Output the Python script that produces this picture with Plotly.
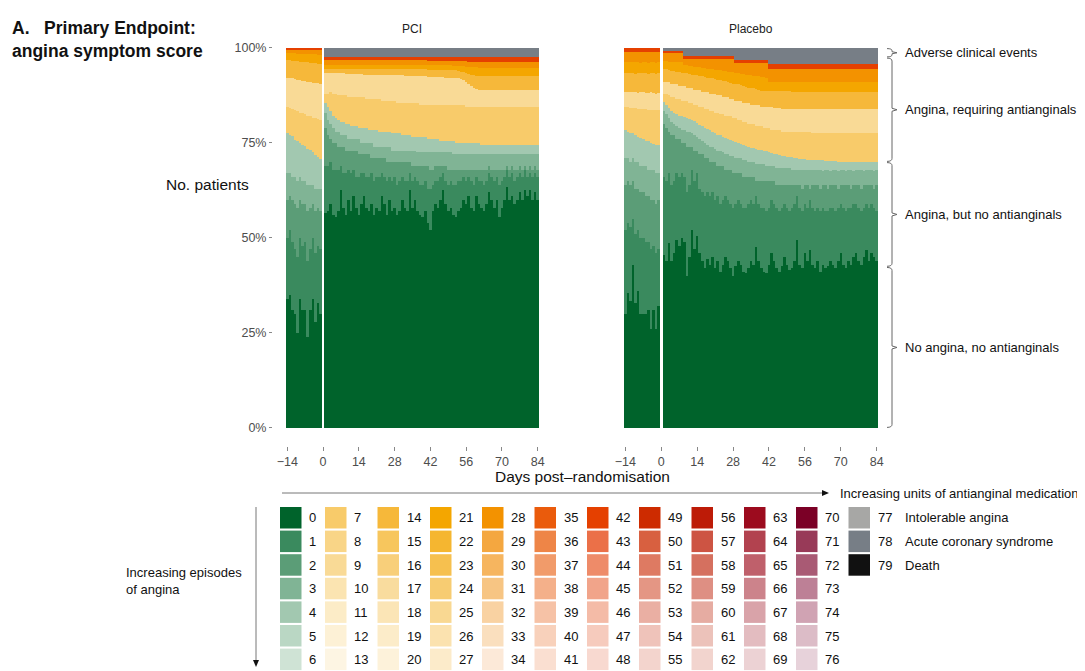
import plotly.graph_objects as go

W, H = 1085, 671
FONT = "Liberation Sans, Arial, Helvetica, sans-serif"
OFF = 8  # page body margin in the browser

# ---------------- categories / labels ----------------
days = list(range(-14, 0)) + list(range(1, 85))
tick_days = [-14, 0, 14, 28, 42, 56, 70, 84]
pct_ticks = [0, 25, 50, 75, 100]
pct_labels = ["0%", "25%", "50%", "75%", "100%"]
panel_titles = ["PCI", "Placebo"]
bracket_edges = [100, 97.5, 70, 42.4, 0]
bracket_labels = ["Adverse clinical events", "Angina, requiring antianginals",
                  "Angina, but no antianginals", "No angina, no antianginals"]
extra_labels = {77: "Intolerable angina", 78: "Acute coronary syndrome", 79: "Death"}

# colour of each score 0..79 (columns of 7)
palette = [
    '#00632b', '#3a8a5e', '#5b9d77', '#80b495', '#a2c8b0', '#bad7c4', '#cfe3d5',
    '#f8cb6a', '#f9d587', '#f9da96', '#fbe4b1', '#fcecc7', '#fdf1d6', '#fdf5e3',
    '#f6b83a', '#f7c65d', '#f8cf7a', '#f9dc9e', '#fbe5b6', '#fcecc9', '#fdf2da',
    '#f4a600', '#f5b630', '#f6c04f', '#f7cc72', '#f9d892', '#fbe2af', '#fcebca',
    '#f39200', '#f4a740', '#f6b55f', '#f7c583', '#f9d2a2', '#fadfbe', '#fce9d8',
    '#ea5b0c', '#ee8547', '#f19b6a', '#f4b08a', '#f6c2a6', '#f8d1bb', '#fadfd1',
    '#e54000', '#eb7048', '#ee8b69', '#f1a48a', '#f4bba7', '#f6cbbd', '#f8d9d0',
    '#cd2b00', '#d86040', '#de7a62', '#e49684', '#eaafa3', '#efc3ba', '#f3d4cd',
    '#bd1b07', '#cd5443', '#d5705f', '#de8f83', '#e6aca2', '#ecc2ba', '#f2d4ce',
    '#9c0b1e', '#b2424f', '#bf606b', '#cc838b', '#d9a3a9', '#e3bcc0', '#ecd2d4',
    '#7b0026', '#983a58', '#a95a74', '#bd8096', '#d0a3b3', '#dcbcc7', '#e7d2da',
    '#a7a7a5', '#777e86', '#111111',
]

# score category drawn by each layer (bottom -> top); last layer fills to 100 %
layer_cats = [0, 1, 2, 3, 4, 7, 9, 14, 21, 28, 42, 78]

# ---------------- data: cumulative % of patients at top of each layer ----------------
# 14 pre-randomisation days (-14..-1) followed by 84 post days (1..84)
pci_c0 = [34, 35, 31, 30, 25, 34, 31, 31, 24, 31, 34, 28, 33, 30,
          56.5, 57, 59, 56, 55.5, 57, 62.5, 58, 56, 60,
          57, 61, 58, 56, 59, 61, 58, 57, 59, 56,
          58, 57, 61, 59, 56, 60, 57, 58, 56, 57,
          60, 58, 57, 62.5, 58, 60, 57, 56, 55.5, 57,
          54, 52, 57, 59, 58, 60, 62.5, 59, 57, 58,
          56, 55.5, 57, 58, 60, 59, 61, 58, 57, 61,
          59, 58, 57, 59, 62, 60, 58, 60, 55.5, 58,
          60, 63.5, 60, 61, 59, 60, 62, 60, 62.5, 61,
          62.5, 60, 62, 60]
pci_c1 = [50, 52, 49, 47, 45, 50, 48, 49, 44, 47, 50, 46, 48, 47,
          69, 69, 70, 68, 68, 68, 69, 67, 67, 68,
          67, 68, 66, 66, 67, 67, 66, 66, 67, 65,
          66, 66, 67, 66, 65, 66, 65, 66, 64, 65,
          66, 65, 65, 67, 65, 66, 65, 64, 64, 65,
          63, 63, 64, 65, 65, 66, 67, 65, 64, 65,
          64, 64, 65, 65, 66, 65, 66, 65, 64, 66,
          65, 65, 64, 65, 67, 66, 65, 66, 64, 65,
          66, 68, 66, 67, 65, 66, 67, 66, 68, 66,
          67, 66, 67, 66]
pci_c2 = [60, 61, 60, 59, 58, 60, 59, 59, 57, 58, 59, 57, 58, 57,
          79, 77, 76, 75, 75, 74, 74, 74, 73, 73,
          73, 73, 73, 72, 72, 72, 72, 72, 71, 71,
          71, 71, 71, 71, 70, 70, 70, 70, 70, 70,
          70, 70, 70, 70, 69, 69, 69, 69, 69, 69,
          69, 68, 68, 69, 69, 69, 69, 69, 68, 68,
          68, 68, 68, 68, 68, 68, 68, 68, 68, 68,
          68, 68, 68, 68, 69, 68, 68, 68, 68, 68,
          68, 69, 68, 69, 68, 68, 69, 68, 69, 68,
          69, 68, 69, 68]
pci_c3 = [67, 67, 66, 66, 65, 66, 65, 65, 64, 64, 64, 63, 63, 63,
          83, 81, 80, 79, 78, 78, 77, 77, 77, 76,
          76, 76, 76, 76, 75, 75, 75, 75, 75, 74,
          74, 74, 74, 74, 74, 74, 73, 73, 73, 73,
          73, 73, 73, 73, 73, 73, 72.5, 72.5, 72.5, 72.5,
          72.5, 72.5, 72.5, 72.5, 72.5, 72.5, 72.5, 72.5, 72.5, 72.5,
          72, 72, 72, 72, 72, 72, 72, 72, 72, 72,
          72, 72, 72, 72, 72, 72, 72, 72, 72, 72,
          72, 72, 72, 72, 72, 72, 72, 72, 72, 72,
          72, 72, 72, 72]
pci_gtop = [77.6, 77.2, 76.8, 75.9, 75.4, 75.1, 74.6, 74.2, 73.3, 73.1, 72.6, 71.9, 71.4, 70.9,
            85.5, 84.5, 83.5, 82, 81.5, 81, 80.5, 80.5, 80, 80,
            79.5, 79.5, 79.5, 79, 79, 79, 79, 78.5, 78.5, 78.5,
            78.5, 78, 78, 78, 78, 78, 77.5, 77.5, 77.5, 77.5,
            77, 77, 77, 77, 76.5, 76.5, 76.5, 76.5, 76.5, 76.5,
            76, 76, 76, 76, 76, 75.5, 75.5, 75.5, 75.5, 75.5,
            75.5, 75, 75, 75, 75, 75, 75, 75, 75, 75,
            75, 74.5, 74.5, 74.5, 74.5, 74.5, 74.5, 74.5, 74.5, 74.5,
            74.5, 74.5, 74.5, 74.5, 74.5, 74.5, 74.5, 74.5, 74.5, 74.5,
            74.5, 74.5, 74.5, 74.5]
pci_y7 = [84.5, 84.3, 84, 83.6, 83.3, 83, 82.8, 82.5, 82.2, 82, 81.7, 81.5, 81.2, 81,
          88, 88, 88.5, 88, 88, 87.5, 87.5, 87.5, 87.5, 87,
          87, 87, 87, 87, 87, 87, 86.5, 86.5, 86.5, 86.5,
          86.5, 86.5, 86, 86, 86, 86, 86, 86, 85.5, 85.5,
          85.5, 85.5, 85.5, 85.5, 85.5, 85.5, 85.5, 85, 85, 85,
          85, 85, 85, 85, 85, 85, 85, 85, 85, 85,
          85, 85, 85, 85, 85, 84.5, 84.5, 84.5, 84.5, 84.5,
          84.5, 84.5, 84.5, 84.5, 84.5, 84.5, 84.5, 84.5, 84.5, 84.5,
          84.5, 84.5, 84.5, 84.5, 84.5, 84.5, 84.5, 84.5, 84.5, 84.5,
          84.5, 84.5, 84.5, 84.5]
pci_y10 = [92, 92, 92, 91.8, 91.6, 91.5, 91.3, 91.2, 91, 91, 90.8, 90.7, 90.7, 90.6,
           93.5, 93.5, 93.5, 93.5, 93.4, 93.4, 93.3, 93.3, 93.2, 93.2,
           93.2, 93.2, 93.1, 93.1, 93.1, 93, 93, 93, 93, 93,
           93, 93, 93, 93, 93, 93, 92.8, 92.8, 92.8, 92.8,
           92.8, 92.6, 92.6, 92.6, 92.6, 92.5, 92.5, 92.5, 92.5, 92.5,
           92.4, 92.4, 92.4, 92.4, 92.3, 92.3, 92.3, 92.2, 92.2, 92.2,
           92, 92, 92, 91.8, 91.5, 91, 90.5, 90, 89.5, 89.2,
           89, 89, 89, 89, 89, 89, 89, 89, 89, 89,
           89, 89, 89, 89, 89, 89, 89, 89, 89, 89,
           89, 89, 89, 89]
pci_y14 = [96.8, 96.8, 96.5, 96.5, 96.5, 96.3, 96.3, 96.2, 96.2, 96, 96, 96, 95.8, 95.8,
           94.6, 94.6, 94.6, 94.5, 94.5, 94.5, 94.5, 94.5, 94.5, 94.5,
           94.5, 94.5, 94.5, 94.5, 94.5, 94.5, 94.5, 94.5, 94.5, 94.5,
           94.4, 94.4, 94.4, 94.4, 94.4, 94.4, 94.4, 94.4, 94.4, 94.4,
           94.4, 94.4, 94.4, 94.4, 94.4, 94.4, 94.4, 94.4, 94.4, 94.4,
           94.3, 94.3, 94.3, 94.3, 94.3, 94.3, 94.3, 94.3, 94.3, 94.3,
           94.2, 94.2, 94, 93.8, 93.6, 93.4, 93.2, 93, 92.8, 92.6,
           92.5, 92.5, 92.5, 92.5, 92.5, 92.5, 92.5, 92.5, 92.5, 92.5,
           92.5, 92.5, 92.5, 92.5, 92.5, 92.5, 92.5, 92.5, 92.5, 92.5,
           92.5, 92.5, 92.5, 92.5]
pci_o21 = [98.8, 98.8, 98.6, 98.6, 98.5, 98.5, 98.5, 98.4, 98.4, 98.3, 98.3, 98.3, 98.2, 98.2,
           95.5, 95.5, 95.5, 95.5, 95.5, 95.5, 95.5, 95.5, 95.5, 95.5,
           95.5, 95.5, 95.5, 95.5, 95.5, 95.5, 95.5, 95.5, 95.5, 95.5,
           95.5, 95.5, 95.5, 95.5, 95.5, 95.5, 95.5, 95.5, 95.5, 95.5,
           95.5, 95.5, 95.5, 95.5, 95.5, 95.5, 95.5, 95.5, 95.5, 95.5,
           95.4, 95.4, 95.4, 95.4, 95.4, 95.4, 95.4, 95.4, 95.4, 95.4,
           95.3, 95.3, 95.3, 95.2, 95.2, 95.1, 95.1, 95, 95, 94.9,
           94.8, 94.8, 94.8, 94.8, 94.8, 94.8, 94.8, 94.8, 94.8, 94.8,
           94.8, 94.8, 94.8, 94.8, 94.8, 94.8, 94.8, 94.8, 94.8, 94.8,
           94.8, 94.8, 94.8, 94.8]
pci_o28 = [99.5, 99.5, 99.5, 99.5, 99.5, 99.5, 99.5, 99.5, 99.5, 99.5, 99.5, 99.5, 99.5, 99.5,
           96.8, 96.8, 96.8, 96.8, 96.8, 96.8, 96.8, 96.8, 96.8, 96.8,
           96.8, 96.8, 96.8, 96.8, 96.8, 96.8, 96.8, 96.8, 96.8, 96.8,
           96.8, 96.8, 96.8, 96.8, 96.8, 96.8, 96.8, 96.8, 96.8, 96.8,
           96.8, 96.8, 96.8, 96.8, 96.8, 96.8, 96.8, 96.8, 96.8, 96.8,
           96.7, 96.7, 96.7, 96.7, 96.7, 96.7, 96.7, 96.7, 96.7, 96.7,
           96.6, 96.6, 96.6, 96.5, 96.5, 96.5, 96.4, 96.4, 96.4, 96.3,
           96.3, 96.3, 96.3, 96.3, 96.3, 96.3, 96.3, 96.3, 96.3, 96.3,
           96.3, 96.3, 96.3, 96.3, 96.3, 96.3, 96.3, 96.3, 96.3, 96.3,
           96.3, 96.3, 96.3, 96.3]
pci_r42 = [100, 100, 100, 100, 100, 100, 100, 100, 100, 100, 100, 100, 100, 100,
           97.6, 97.6, 97.6, 97.6, 97.6, 97.6, 97.6, 97.6, 97.6, 97.6,
           97.6, 97.6, 97.6, 97.6, 97.6, 97.6, 97.6, 97.6, 97.6, 97.6,
           97.6, 97.6, 97.6, 97.6, 97.6, 97.6, 97.6, 97.6, 97.6, 97.6,
           97.6, 97.6, 97.6, 97.6, 97.6, 97.6, 97.6, 97.6, 97.6, 97.6,
           97.6, 97.6, 97.6, 97.6, 97.6, 97.6, 97.6, 97.6, 97.6, 97.6,
           97.5, 97.5, 97.5, 97.5, 97.5, 97.5, 97.5, 97.5, 97.5, 97.5,
           97.5, 97.5, 97.5, 97.5, 97.5, 97.5, 97.5, 97.5, 97.5, 97.5,
           97.5, 97.5, 97.5, 97.5, 97.5, 97.5, 97.5, 97.5, 97.5, 97.5,
           97.5, 97.5, 97.5, 97.5]

pl_c0 = [30, 35.5, 33.5, 43, 33, 36, 30, 30, 30, 31, 26, 31, 26, 32,
         45.5, 44, 48.6, 44, 46, 49.5, 48, 50, 49, 40,
         45, 52, 47, 50.4, 46, 44, 42, 44.5, 43, 45,
         42, 44, 41, 43, 45, 44, 42, 40, 42.5, 44,
         43, 41, 40.7, 42, 44, 43, 47.7, 44, 42, 41,
         40.7, 43, 46, 44, 42, 41, 42.5, 45, 43, 41.6,
         42, 44, 49.5, 43, 42, 46, 44, 46.8, 43, 42,
         44, 41, 43, 42, 42.5, 44, 43, 42, 44, 46,
         43, 42, 44, 43, 45, 46, 44, 43, 45, 46.8,
         44, 46, 45, 44]
pl_c1 = [52, 54, 53, 55, 51, 52, 50, 50, 49, 49, 47, 48, 46, 47,
         66, 65, 67, 64, 65, 67, 66, 67, 66, 62,
         64, 68, 65, 67, 63, 62, 61, 62, 61, 62,
         60, 61, 59, 60, 61, 60, 59, 58, 59, 60,
         59, 58, 58, 59, 60, 59, 61, 59, 58, 58,
         57, 58, 60, 59, 58, 57, 58, 59, 58, 57,
         58, 59, 61, 58, 57, 59, 58, 60, 58, 57,
         58, 57, 58, 57, 57, 58, 58, 57, 58, 59,
         58, 57, 58, 58, 59, 59, 58, 57, 58, 59,
         58, 59, 58, 57]
pl_c2 = [64, 65, 64, 65, 63, 63, 62, 62, 61, 61, 60, 60, 59, 60,
         80, 79, 78, 77, 77, 76, 76, 75, 75, 74,
         74, 74, 73, 73, 72, 72, 71, 71, 70, 70,
         70, 69, 69, 69, 68, 68, 68, 67, 67, 67,
         67, 66, 66, 66, 66, 66, 65, 65, 65, 65,
         65, 65, 65, 65, 64, 64, 64, 64, 64, 64,
         64, 64, 64, 64, 63, 64, 64, 63, 64, 64,
         64, 63, 64, 64, 63, 64, 64, 64, 63, 64,
         64, 64, 64, 63, 64, 64, 64, 63, 64, 64,
         64, 64, 63, 64]
pl_c3 = [71, 71, 70, 71, 70, 70, 69, 69, 69, 68, 68, 68, 67, 67,
         83.5, 82.5, 81.5, 80.5, 80, 79.5, 79, 78.5, 78.5, 78,
         78, 77.5, 77, 76.5, 76, 75.5, 75, 74.5, 74, 74,
         73.5, 73, 73, 72.5, 72, 72, 71.5, 71.5, 71, 71,
         71, 70.5, 70.5, 70, 70, 70, 69.5, 69.5, 69.5, 69.5,
         69, 69, 69, 69, 68.5, 68.5, 68.5, 68.5, 68.5, 68.5,
         68, 68, 68, 68, 68, 68, 68, 68, 68, 68,
         68, 68, 67.5, 68, 68, 67.5, 68, 68, 67.5, 68,
         68, 67.5, 68, 68, 67.5, 68, 68, 68, 67.5, 68,
         68, 68, 67.5, 68]
pl_gtop = [78.4, 78, 77.6, 77.5, 77, 76.6, 76.3, 76, 75.6, 75.4, 75, 74.8, 74.5, 74.5,
           85.8, 85, 84.2, 83.5, 83, 82.6, 82.2, 82, 81.8, 81.5,
           81.2, 81, 80.8, 80.2, 79.8, 79.4, 79, 78.6, 78.3, 78,
           77.6, 77.2, 77, 76.7, 76.3, 76, 75.8, 75.5, 75.2, 75,
           74.8, 74.5, 74.3, 74, 73.8, 73.6, 73.4, 73.2, 73.1, 73,
           72.8, 72.6, 72.4, 72.2, 72, 71.9, 71.7, 71.5, 71.4, 71.3,
           71.2, 71.1, 71, 70.9, 70.8, 70.7, 70.6, 70.6, 70.5, 70.5,
           70.5, 70.4, 70.4, 70.3, 70.3, 70.2, 70.2, 70.2, 70.1, 70.1,
           70.1, 70, 70, 70, 70, 70, 70, 70, 70, 70,
           70, 70, 70, 70]
pl_y7 = [84.5, 84.4, 84.3, 84.2, 84.1, 84, 84, 83.9, 83.9, 83.8, 83.8, 83.7, 83.7, 83.7,
         88, 88, 87.5, 87, 87, 86.5, 86.5, 86, 86, 86,
         85.5, 85.5, 85, 85, 84.5, 84.5, 84, 84, 83.5, 83.5,
         83, 83, 82.5, 82.5, 82, 82, 82, 81.5, 81.5, 81,
         81, 80.5, 80.5, 80, 80, 80, 79.5, 79.5, 79.5, 79,
         79, 79, 78.5, 78.5, 78.5, 78.5, 78, 78, 78, 78,
         78, 78, 78, 77.8, 77.8, 77.8, 77.8, 77.8, 77.6, 77.6,
         77.6, 77.6, 77.6, 77.6, 77.6, 77.6, 77.6, 77.6, 77.6, 77.6,
         77.6, 77.6, 77.6, 77.6, 77.6, 77.6, 77.6, 77.6, 77.6, 77.6,
         77.6, 77.6, 77.6, 77.6]
pl_y10 = [88.4, 88.4, 88.5, 88.3, 88.4, 88.2, 88.3, 88.4, 88.2, 88.1, 88.3, 88.2, 88, 88.1,
          91, 91, 91, 90.5, 90.5, 90.5, 90, 90, 90, 89.5,
          89.5, 89.5, 89, 89, 89, 88.5, 88.5, 88.5, 88, 88,
          88, 87.5, 87.5, 87, 87, 87, 86.5, 86.5, 86, 86,
          86, 85.5, 85.5, 85.5, 85, 85, 85, 85, 84.5, 84.5,
          84.5, 84.5, 84.5, 84.2, 84.2, 84.2, 84, 84, 84, 84,
          84, 84, 84, 84, 84, 84, 84, 84, 84, 84,
          84, 84, 84, 84, 84, 84, 84, 84, 84, 84,
          84, 84, 84, 84, 84, 84, 84, 84, 84, 84,
          84, 84, 84, 84]
pl_y14 = [93.4, 93.5, 93.3, 93.4, 93.2, 93.4, 93.3, 93.5, 93.3, 93.2, 93.4, 93.3, 93.2, 93.3,
          94.4, 94.4, 94.2, 94, 94, 93.8, 93.6, 93.5, 93.5, 93.4,
          93.2, 93, 93, 92.8, 92.6, 92.5, 92.4, 92.2, 92, 92,
          91.8, 91.6, 91.5, 91.4, 91.2, 91, 90.8, 90.6, 90.5, 90.4,
          90.2, 90, 89.8, 89.6, 89.5, 89.4, 89.2, 89, 88.8, 88.8,
          88.6, 88.6, 88.6, 88.6, 88.6, 88.6, 88.6, 88.6, 88.6, 88.6,
          88.5, 88.5, 88.5, 88.5, 88.5, 88.5, 88.5, 88.5, 88.5, 88.5,
          88.5, 88.5, 88.5, 88.5, 88.5, 88.5, 88.5, 88.5, 88.5, 88.5,
          88.5, 88.5, 88.5, 88.5, 88.5, 88.5, 88.5, 88.5, 88.5, 88.5,
          88.5, 88.5, 88.5, 88.5]
pl_o21 = [96.3, 96.4, 96.2, 96.3, 96.2, 96.3, 96.1, 96.3, 96.2, 96.1, 96.3, 96.2, 96.1, 96.2,
          96.5, 96.5, 96.4, 96.4, 96.3, 96.3, 96.2, 96.2, 95.5, 95.4,
          95.3, 95.2, 95.1, 95, 94.9, 94.8, 94.7, 94.6, 94.5, 94.4,
          94.3, 94.2, 94.1, 94, 93.9, 93.8, 93.7, 93.6, 93.4, 93.3,
          93.2, 93.1, 93, 92.9, 92.8, 92.7, 92.6, 92.5, 92.4, 92.3,
          92.2, 91, 91, 91, 91, 91, 91, 91, 91, 91,
          91, 91, 91, 91, 91, 91, 91, 91, 91, 91,
          91, 91, 91, 91, 91, 91, 91, 91, 91, 91,
          91, 91, 91, 91, 91, 91, 91, 91, 91, 91,
          91, 91, 91, 91]
pl_o28 = [99, 99, 99, 99, 99, 99, 99, 99, 99, 99, 99, 99, 99, 99,
          98.7, 98.7, 98.7, 98.7, 98.7, 98.7, 98.7, 98.7, 97.2, 97.2,
          97.2, 97.2, 97.2, 97.2, 97.2, 97.2, 97.2, 97.2, 97.2, 97.2,
          97.2, 97.2, 97.2, 97.2, 97.2, 97.2, 97.2, 97.2, 96, 96,
          96, 96, 96, 96, 96, 96, 96, 96, 96, 96,
          96, 94.6, 94.6, 94.6, 94.6, 94.6, 94.6, 94.6, 94.6, 94.6,
          94.6, 94.6, 94.6, 94.6, 94.6, 94.6, 94.6, 94.6, 94.6, 94.6,
          94.6, 94.6, 94.6, 94.6, 94.6, 94.6, 94.6, 94.6, 94.6, 94.6,
          94.6, 94.6, 94.6, 94.6, 94.6, 94.6, 94.6, 94.6, 94.6, 94.6,
          94.6, 94.6, 94.6, 94.6]
pl_r42 = [100, 100, 100, 100, 100, 100, 100, 100, 100, 100, 100, 100, 100, 100,
          99.3, 99.3, 99.3, 99.3, 99.3, 99.3, 99.3, 99.3, 97.9, 97.9,
          97.9, 97.9, 97.9, 97.9, 97.9, 97.9, 97.9, 97.9, 97.9, 97.9,
          97.9, 97.9, 97.9, 97.9, 97.9, 97.9, 97.9, 97.9, 96.8, 96.8,
          96.8, 96.8, 96.8, 96.8, 96.8, 96.8, 96.8, 96.8, 96.8, 96.8,
          96.8, 95.9, 95.9, 95.9, 95.9, 95.9, 95.9, 95.9, 95.9, 95.9,
          95.9, 95.9, 95.9, 95.9, 95.9, 95.9, 95.9, 95.9, 95.9, 95.9,
          95.9, 95.9, 95.9, 95.9, 95.9, 95.9, 95.9, 95.9, 95.9, 95.9,
          95.9, 95.9, 95.9, 95.9, 95.9, 95.9, 95.9, 95.9, 95.9, 95.9,
          95.9, 95.9, 95.9, 95.9]

pci_layers = [pci_c0, pci_c1, pci_c2, pci_c3, pci_gtop, pci_y7, pci_y10,
              pci_y14, pci_o21, pci_o28, pci_r42]
pl_layers = [pl_c0, pl_c1, pl_c2, pl_c3, pl_gtop, pl_y7, pl_y10,
             pl_y14, pl_o21, pl_o28, pl_r42]


def heights(tops):
    n = len(days)
    out = []
    prev = [0.0] * n
    for t in tops + [[100.0] * n]:
        out.append([max(0.0, a - b) for a, b in zip(t, prev)])
        prev = t
    return out


def X(px):
    return (px - OFF) / W


def Y(py):
    return 1 - (py - OFF) / H


def ypix(pct):
    return 428 - 3.8 * pct


fig = go.Figure()
for tops, xa, ya in [(pci_layers, 'x', 'y'), (pl_layers, 'x2', 'y2')]:
    for cat, h in zip(layer_cats, heights(tops)):
        fig.add_trace(go.Bar(x=days, y=h, xaxis=xa, yaxis=ya,
                             marker=dict(color=palette[cat], line=dict(width=0)),
                             showlegend=False, hoverinfo='skip'))

ax_common = dict(range=[-19.6, 84.5], tickvals=tick_days, ticks='outside', ticklen=4,
                 tickwidth=1, tickcolor='#888', showgrid=False, zeroline=False,
                 showline=False, automargin=False,
                 tickfont=dict(family=FONT, size=12.5, color='#4d4d4d'))
ydom = [Y(446), Y(38)]
fig.update_layout(
    width=W, height=H, margin=dict(l=0, r=0, t=0, b=0),
    paper_bgcolor='white', plot_bgcolor='white',
    barmode='stack', bargap=0,
    font=dict(family=FONT, color='#222'),
    xaxis=dict(domain=[X(273), X(539)], anchor='y', **ax_common),
    xaxis2=dict(domain=[X(611), X(878)], anchor='y2', **ax_common),
    yaxis=dict(domain=ydom, range=[-4.74, 102.63], anchor='x', tickvals=pct_ticks,
               ticktext=pct_labels, ticks='outside', ticklen=3, tickcolor='#888',
               showgrid=False, zeroline=False, showline=False, automargin=False,
               tickfont=dict(family=FONT, size=12.5, color='#4d4d4d')),
    yaxis2=dict(domain=ydom, range=[-4.74, 102.63], anchor='x2', showticklabels=False,
                ticks='', showgrid=False, zeroline=False, showline=False),
)

ann = []
shapes = []


def text(x, y, s, size=13, xanchor='center', yanchor='middle', align='center', color='#222'):
    if xanchor == 'left':
        x -= 2
    ann.append(dict(x=X(x), y=Y(y), xref='paper', yref='paper', text=s, showarrow=False,
                    xanchor=xanchor, yanchor=yanchor, align=align,
                    font=dict(family=FONT, size=size, color=color)))


text(12, 16, "<b>A.\u00a0\u00a0\u00a0Primary Endpoint:</b><br><b>angina symptom score</b>",
     size=17.5, xanchor='left', yanchor='top', align='left', color='#111')
text(207, 185, "No. patients", size=15.5, color='#111')
text(412, 29, panel_titles[0], size=12)
text(751, 29, panel_titles[1], size=12)
text(582, 476, "Days post\u2013randomisation", size=15.5, color='#111')

# brackets on the right
for i, lab in enumerate(bracket_labels):
    t = ypix(bracket_edges[i]) + 0.6
    b = ypix(bracket_edges[i + 1]) - 0.6
    m = (t + b) / 2
    c = min(3, (b - t) / 4)
    path = (f"M {X(887)},{Y(t)} Q {X(892)},{Y(t)} {X(892)},{Y(t + c)} "
            f"L {X(892)},{Y(m - c / 2)} L {X(897)},{Y(m)} L {X(892)},{Y(m + c / 2)} "
            f"L {X(892)},{Y(b - c)} Q {X(892)},{Y(b)} {X(887)},{Y(b)}")
    shapes.append(dict(type='path', xref='paper', yref='paper', path=path,
                       line=dict(color='#666', width=1)))
    text(905, m, lab, size=13, xanchor='left', color='#111')

# arrows
shapes.append(dict(type='line', xref='paper', yref='paper', x0=X(282), x1=X(824),
                   y0=Y(493), y1=Y(493), line=dict(color='#777', width=1)))
shapes.append(dict(type='path', xref='paper', yref='paper', fillcolor='#111',
                   line=dict(width=0),
                   path=f"M {X(822)},{Y(490)} L {X(829)},{Y(493)} L {X(822)},{Y(496)} Z"))
text(840, 493, "Increasing units of antianginal medication", size=13, xanchor='left',
     color='#111')
shapes.append(dict(type='line', xref='paper', yref='paper', x0=X(256), x1=X(256),
                   y0=Y(507), y1=Y(661), line=dict(color='#777', width=1)))
shapes.append(dict(type='path', xref='paper', yref='paper', fillcolor='#111',
                   line=dict(width=0),
                   path=f"M {X(253)},{Y(660)} L {X(256)},{Y(667)} L {X(259)},{Y(660)} Z"))
text(126, 581, "Increasing episodes<br>of angina", size=13, xanchor='left', align='left',
     color='#111')

# legend grid
col_x = [280, 325, 377.5, 430, 482, 534.5, 587, 639, 691.5, 744, 796, 848.5]
row_y = [507, 530.6, 554.2, 577.8, 601.4, 625, 648.6]
for cat in range(80):
    col, row = divmod(cat, 7)
    x0, y0 = col_x[col], row_y[row]
    shapes.append(dict(type='rect', xref='paper', yref='paper', x0=X(x0), x1=X(x0 + 21.5),
                       y0=Y(y0), y1=Y(y0 + 21.5), fillcolor=palette[cat], line=dict(width=0)))
    text(x0 + 29, y0 + 11, str(cat), size=13, xanchor='left', color='#111')
    if cat in extra_labels:
        text(905, y0 + 11, extra_labels[cat], size=13, xanchor='left', color='#111')

fig.update_layout(annotations=ann, shapes=shapes)
fig.write_html("out.html")
